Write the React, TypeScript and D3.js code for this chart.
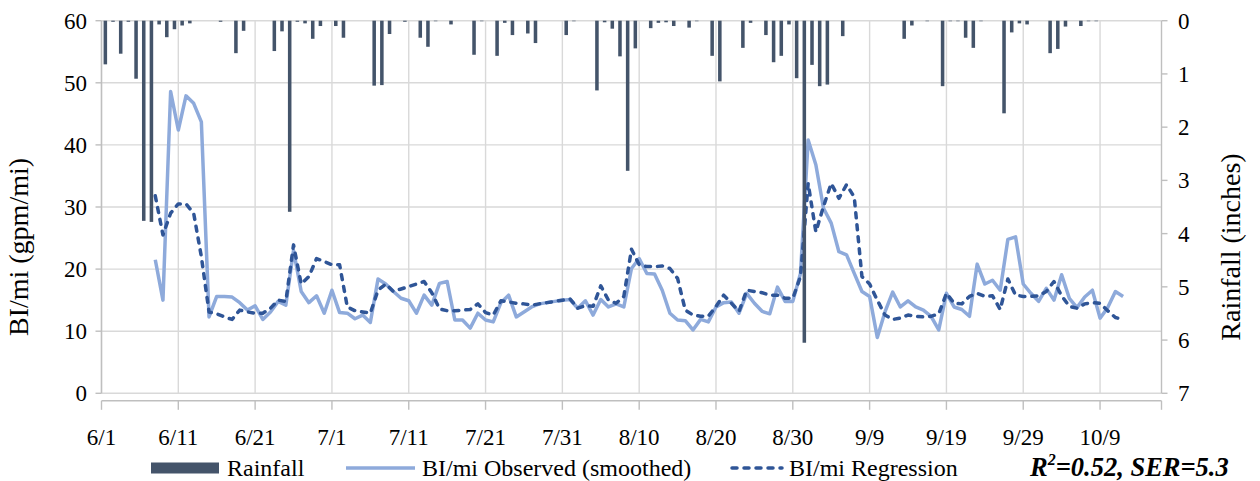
import React, { useEffect, useRef } from 'react';
import * as d3 from 'd3';

// daily rainfall (inches), starting 6/1
const rainfall = [
  0.82, 0.02, 0.62, 0.02, 1.09, 3.76, 3.78, 0.07, 0.31, 0.16,
  0.09, 0.05, 0, 0, 0, 0.02, 0, 0.61, 0.19, 0,
  0, 0, 0.57, 0.2, 3.59, 0.02, 0.05, 0.34, 0.1, 0,
  0.1, 0.32, 0, 0, 0, 1.22, 1.21, 0.25, 0, 0.02,
  0, 0.32, 0.49, 0.01, 0, 0.07, 0, 0, 0.64, 0.01,
  0, 0.66, 0.04, 0.27, 0, 0.24, 0.42, 0, 0, 0,
  0.27, 0.01, 0, 0, 1.31, 0.03, 0.15, 0.67, 2.82, 0.52,
  0, 0.14, 0.04, 0.03, 0.1, 0, 0.13, 0.01, 0, 0.66,
  1.14, 0, 0, 0.51, 0.04, 0, 0.27, 0.78, 0.66, 0.07,
  1.08, 6.05, 0.83, 1.23, 1.2, 0, 0.29, 0, 0, 0,
  0, 0, 0, 0, 0.34, 0.09, 0, 0.01, 0, 1.23,
  0.01, 0.01, 0.32, 0.51, 0.01, 0, 0, 1.74, 0.22, 0.05,
  0.07, 0, 0, 0.61, 0.53, 0.11, 0, 0.1, 0.01, 0.01,
];

// BI/mi series, one value per day starting 6/8
const observed = [
  21.5, 15.0, 48.6, 42.4, 47.9, 46.7, 43.7, 12.3, 15.6, 15.6,
  15.5, 14.6, 13.4, 14.1, 11.9, 13.1, 14.8, 14.2, 23.0, 16.4,
  14.6, 15.7, 12.9, 16.6, 13.0, 12.9, 12.0, 12.6, 11.4, 18.4,
  17.6, 16.4, 15.3, 14.9, 12.9, 15.8, 14.2, 17.7, 18.0, 11.8,
  11.8, 10.5, 12.9, 11.8, 11.5, 14.6, 15.8, 12.3, 13.1, 13.9,
  14.4, 14.6, 14.8, 15.0, 15.1, 13.7, 14.9, 12.6, 15.1, 13.9,
  14.4, 13.9, 20.1, 21.7, 19.3, 19.2, 16.6, 12.9, 11.8, 11.7,
  10.2, 11.9, 11.5, 13.9, 14.6, 14.7, 12.9, 16.1, 14.5, 13.2,
  12.8, 17.1, 14.8, 14.8, 19.3, 40.8, 36.8, 29.8, 27.4, 22.8,
  22.3, 19.3, 16.4, 15.6, 9.0, 13.1, 16.3, 13.9, 14.9, 13.9,
  13.4, 12.4, 10.2, 16.1, 13.9, 13.5, 12.4, 20.8, 17.6, 18.2,
  16.6, 24.8, 25.2, 17.6, 16.1, 14.8, 16.9, 15.0, 19.1, 15.3,
  13.8, 15.5, 16.6, 12.1, 13.8, 16.4, 15.6,
];

const regression = [
  31.8, 25.5, 29.0, 30.5, 30.5, 29.0, 22.0, 13.1, 12.8, 12.3,
  11.9, 13.4, 13.1, 12.9, 12.9, 13.7, 15.0, 14.8, 23.9, 17.6,
  18.8, 21.7, 21.2, 20.7, 20.7, 13.9, 13.3, 13.1, 12.9, 16.6,
  17.6, 16.4, 16.8, 17.2, 17.6, 18.0, 16.2, 13.6, 13.3, 13.3,
  13.4, 13.5, 14.4, 13.0, 12.6, 14.9, 14.7, 14.5, 14.4, 14.2,
  14.4, 14.6, 14.8, 15.0, 15.2, 13.7, 14.1, 14.0, 17.3, 15.0,
  14.5, 15.6, 23.2, 20.7, 20.4, 20.4, 20.5, 20.1, 18.5, 13.4,
  12.6, 12.4, 12.4, 14.0, 15.8, 14.5, 13.2, 16.6, 16.4, 16.2,
  15.8, 15.8, 15.3, 15.3, 18.8, 33.8, 26.0, 30.1, 33.8, 31.4,
  33.6, 31.6, 18.8, 17.6, 15.0, 12.6, 11.9, 12.1, 12.6, 12.4,
  12.3, 12.4, 12.8, 16.1, 14.5, 14.4, 15.6, 16.1, 15.6, 15.7,
  13.5, 18.4, 15.8, 15.6, 15.6, 15.7, 16.4, 18.0, 15.7, 14.0,
  13.7, 14.4, 14.6, 14.5, 13.3, 12.2, 11.9,
];

const leftTicks = [0, 10, 20, 30, 40, 50, 60];
const rightTicks = [0, 1, 2, 3, 4, 5, 6, 7];

const rainStart = new Date(Date.UTC(2016, 5, 1));
const lineStart = new Date(Date.UTC(2016, 5, 8));
const axisEnd = new Date(Date.UTC(2016, 9, 17));
const dateTicks = d3.range(0, 131, 10).map((d) => d3.utcDay.offset(rainStart, d));

const font = "'Liberation Serif', 'Times New Roman', serif";

export default function App() {
  const chartRef = useRef<SVGSVGElement>(null);

  useEffect(() => {
    const width = 1260;
    const height = 481;
    const plot = { left: 101.5, right: 1161.5, top: 20.7, bottom: 393.3 };

    const svg = d3.select(chartRef.current);
    svg.selectAll('*').remove();
    svg.attr('width', width).attr('height', height);

    const x = d3.scaleUtc().domain([rainStart, axisEnd]).range([plot.left, plot.right]);
    const y = d3.scaleLinear().domain([0, 60]).range([plot.bottom, plot.top]);
    const yRain = d3.scaleLinear().domain([0, 7]).range([plot.top, plot.bottom]);
    const dayW = x(d3.utcDay.offset(rainStart, 1)) - x(rainStart);

    // gridlines
    svg.append('g')
      .selectAll('line')
      .data(leftTicks)
      .enter()
      .append('line')
      .attr('x1', plot.left)
      .attr('x2', plot.right)
      .attr('y1', (d) => y(d))
      .attr('y2', (d) => y(d))
      .attr('stroke', '#d9d9d9')
      .attr('stroke-width', 1.4);

    svg.append('g')
      .selectAll('line')
      .data(dateTicks)
      .enter()
      .append('line')
      .attr('x1', (d) => x(d))
      .attr('x2', (d) => x(d))
      .attr('y1', plot.top)
      .attr('y2', plot.bottom)
      .attr('stroke', '#d9d9d9')
      .attr('stroke-width', 1.4);

    // axes
    const axisY = plot.bottom + 7.5;
    const axes = svg.append('g').attr('stroke', '#bfbfbf').attr('stroke-width', 1.4);
    axes.append('line').attr('x1', plot.left).attr('x2', plot.left).attr('y1', plot.top).attr('y2', plot.bottom);
    axes.append('line').attr('x1', plot.right).attr('x2', plot.right).attr('y1', plot.top).attr('y2', plot.bottom);
    axes.append('line').attr('x1', plot.left).attr('x2', plot.right).attr('y1', axisY).attr('y2', axisY);
    axes.selectAll('.lt').data(leftTicks).enter().append('line')
      .attr('x1', plot.left - 6).attr('x2', plot.left).attr('y1', (d) => y(d)).attr('y2', (d) => y(d));
    axes.selectAll('.rt').data(rightTicks).enter().append('line')
      .attr('x1', plot.right).attr('x2', plot.right + 6).attr('y1', (d) => yRain(d)).attr('y2', (d) => yRain(d));
    axes.selectAll('.bt').data([...dateTicks, axisEnd]).enter().append('line')
      .attr('x1', (d) => x(d)).attr('x2', (d) => x(d)).attr('y1', axisY).attr('y2', axisY + 9);

    // tick labels
    const labels = svg.append('g');
    labels.selectAll('.ly').data(leftTicks).enter().append('text')
      .attr('x', 87).attr('y', (d) => y(d)).attr('dy', '0.35em').attr('text-anchor', 'end')
      .style('font-family', font).style('font-size', '23px').text((d) => d);
    labels.selectAll('.ry').data(rightTicks).enter().append('text')
      .attr('x', 1178).attr('y', (d) => yRain(d)).attr('dy', '0.35em').attr('text-anchor', 'start')
      .style('font-family', font).style('font-size', '23px').text((d) => d);
    const fmt = d3.utcFormat('%-m/%-d');
    labels.selectAll('.bx').data(dateTicks).enter().append('text')
      .attr('x', (d) => x(d)).attr('y', 437).attr('dy', '0.35em').attr('text-anchor', 'middle')
      .style('font-family', font).style('font-size', '23px').text((d) => fmt(d));

    // axis titles
    svg.append('text')
      .attr('transform', 'translate(28,247) rotate(-90)')
      .attr('text-anchor', 'middle')
      .style('font-family', font)
      .style('font-size', '28px')
      .text('BI/mi (gpm/mi)');
    svg.append('text')
      .attr('transform', 'translate(1240,247) rotate(-90)')
      .attr('text-anchor', 'middle')
      .style('font-family', font)
      .style('font-size', '28px')
      .text('Rainfall (inches)');

    // lines
    const lineGen = d3.line<number>()
      .x((_, i) => x(d3.utcDay.offset(lineStart, i)))
      .y((d) => y(d));

    svg.append('path')
      .datum(observed)
      .attr('d', lineGen)
      .attr('fill', 'none')
      .attr('stroke', '#8eaadb')
      .attr('stroke-width', 3.5)
      .attr('stroke-linejoin', 'round');

    svg.append('path')
      .datum(regression)
      .attr('d', lineGen)
      .attr('fill', 'none')
      .attr('stroke', '#2f5597')
      .attr('stroke-width', 3.5)
      .attr('stroke-dasharray', '5,7')
      .attr('stroke-linecap', 'round')
      .attr('stroke-linejoin', 'round');

    // rainfall bars hanging from the top
    const barW = dayW * 0.46;
    svg.append('g')
      .selectAll('rect')
      .data(rainfall)
      .enter()
      .append('rect')
      .attr('x', (_, i) => x(d3.utcDay.offset(rainStart, i)) + dayW / 2 - barW / 2)
      .attr('y', yRain(0))
      .attr('width', barW)
      .attr('height', (d) => yRain(d) - yRain(0))
      .attr('fill', '#44546a');

    // legend
    const lg = svg.append('g');
    lg.append('rect').attr('x', 151).attr('y', 462.5).attr('width', 68).attr('height', 11).attr('fill', '#44546a');
    lg.append('line').attr('x1', 346).attr('x2', 415).attr('y1', 468).attr('y2', 468)
      .attr('stroke', '#8eaadb').attr('stroke-width', 3.5);
    lg.append('line').attr('x1', 732).attr('x2', 782).attr('y1', 468).attr('y2', 468)
      .attr('stroke', '#2f5597').attr('stroke-width', 3.5)
      .attr('stroke-dasharray', '5,7').attr('stroke-linecap', 'round');
    const legendText = [
      { x: 227, label: 'Rainfall' },
      { x: 422, label: 'BI/mi Observed (smoothed)' },
      { x: 789, label: 'BI/mi Regression' },
    ];
    lg.selectAll('text').data(legendText).enter().append('text')
      .attr('x', (d) => d.x).attr('y', 476)
      .style('font-family', font).style('font-size', '24px')
      .text((d) => d.label);

    const stat = svg.append('text')
      .attr('x', 1030)
      .attr('y', 476)
      .style('font-family', font)
      .style('font-size', '26.5px')
      .style('font-weight', 'bold')
      .style('font-style', 'italic');
    stat.append('tspan').text('R');
    stat.append('tspan').style('font-size', '16px').attr('dy', -11).text('2');
    stat.append('tspan').attr('dy', 11).text('=0.52, SER=5.3');
  }, []);

  return <svg ref={chartRef} style={{ position: 'absolute', left: 0, top: 0 }} />;
}
